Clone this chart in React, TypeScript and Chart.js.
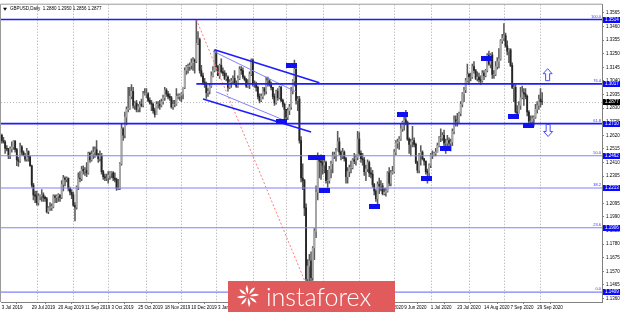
import React, { useEffect, useRef } from "react";
import { Chart, registerables } from "chart.js";

Chart.register(...registerables);

const symbolTitle = "GBPUSD,Daily";

// Daily quotes in pips (price x 10000), one row per month, 3 Jul 2019 .. 2 Oct 2020
const opens = [
  12620, 12580, 12568, 12520, 12515, 12460, 12515, 12530, 12575, 12510, 12430, 12420, 12530, 12490, 12465, 12435, 12495, 12455, 12385, 12235, 12160,
  12150, 12100, 12150, 12150, 12160, 12140, 12130, 12030, 12060, 12060, 12070, 12150, 12140, 12150, 12160, 12140, 12240, 12290, 12280, 12290, 12210, 12180,
  12160, 12080, 12065, 12220, 12290, 12285, 12355, 12345, 12350, 12330, 12480, 12430, 12475, 12490, 12510, 12470, 12440, 12460, 12340, 12300, 12290,
  12290, 12310, 12330, 12330, 12290, 12280, 12210, 12210, 12400, 12670, 12620, 12760, 12820, 12830, 12920, 12960, 12850, 12870, 12820, 12840, 12860, 12850, 12940,
  12940, 12940, 12890, 12870, 12860, 12810, 12780, 12860, 12860, 12850, 12880, 12910, 12970, 12940, 12920, 12910, 12840, 12860, 12860, 12920, 12920,
  12930, 12940, 12990, 13120, 13150, 13150, 13160, 13180, 13200, 13190, 13330, 13360, 13120, 13080, 13030, 13010, 12950, 12960, 13000, 13080, 13120,
  13260, 13150, 13080, 13160, 13110, 13100, 13060, 13070, 12990, 13030, 13040, 13060, 13020, 13000, 13060, 13130, 13120, 13070, 13050, 13000, 13010, 13090,
  13200, 13010, 13010, 12990, 12920, 12890, 12920, 12980, 12960, 13040, 13040, 13010, 12990, 12920, 12870, 12960, 12910, 12990, 12890, 12860,
  12820, 12760, 12810, 12840, 12960, 13040, 13130, 12890, 12900, 12580, 12290, 12270, 12060, 11510, 11610, 11650, 11520, 11750, 11880, 12180, 12450, 12420,
  12410, 12390, 12410, 12270, 12270, 12360, 12400, 12460, 12470, 12500, 12570, 12490, 12460, 12490, 12440, 12300, 12340, 12370, 12370, 12430, 12420, 12450,
  12590, 12480, 12440, 12430, 12340, 12360, 12410, 12330, 12320, 12240, 12190, 12130, 12240, 12230, 12230, 12170, 12180, 12190, 12330, 12250, 12330,
  12340, 12490, 12560, 12570, 12590, 12670, 12720, 12740, 12720, 12590, 12550, 12570, 12580, 12550, 12410, 12350, 12470, 12490, 12440, 12420, 12340, 12330,
  12390, 12470, 12470, 12480, 12490, 12540, 12600, 12600, 12620, 12560, 12560, 12580, 12560, 12570, 12650, 12740, 12730, 12730, 12790, 12860, 12940, 12970, 13040,
  13090, 13070, 13070, 13150, 13120, 13060, 13070, 13050, 13040, 13100, 13080, 13120, 13240, 13170, 13240, 13090, 13090, 13150, 13190, 13210, 13350,
  13370, 13390, 13310, 13270, 13280, 13160, 12990, 12990, 12800, 12790, 12850, 12910, 12950, 12940, 12920, 12800, 12730, 12730, 12750, 12760, 12820, 12850,
  12900, 12880,
];
const highs = [
  12630, 12605, 12580, 12540, 12520, 12530, 12570, 12580, 12580, 12520, 12450, 12560, 12540, 12500, 12480, 12520, 12500, 12460, 12390, 12250, 12190,
  12190, 12170, 12160, 12200, 12175, 12150, 12140, 12070, 12100, 12090, 12160, 12160, 12160, 12170, 12160, 12270, 12310, 12300, 12300, 12290, 12220, 12200,
  12180, 12100, 12230, 12330, 12340, 12380, 12385, 12370, 12410, 12490, 12490, 12500, 12530, 12530, 12580, 12480, 12500, 12480, 12350, 12320, 12320,
  12340, 12340, 12340, 12340, 12330, 12290, 12280, 12410, 12710, 12680, 12800, 12840, 12990, 12990, 13012, 12990, 12880, 12890, 12860, 12880, 12900, 12960, 12980,
  12980, 12950, 12910, 12890, 12870, 12830, 12880, 12880, 12890, 12900, 12930, 12990, 12980, 12960, 12940, 12920, 12890, 12890, 12980, 12940, 12940,
  12950, 12990, 13140, 13160, 13170, 13180, 13210, 13220, 13210, 13514, 13420, 13370, 13160, 13100, 13060, 13030, 12980, 13020, 13110, 13150, 13280,
  13270, 13160, 13170, 13210, 13140, 13120, 13100, 13080, 13050, 13060, 13080, 13120, 13040, 13080, 13150, 13150, 13140, 13080, 13060, 13050, 13110, 13210,
  13210, 13040, 13030, 13000, 12940, 12940, 12990, 12990, 13070, 13070, 13050, 13030, 12990, 12940, 12970, 12980, 13000, 13000, 12900, 12870,
  12820, 12830, 12860, 12990, 13050, 13200, 13140, 12920, 12920, 12610, 12400, 12280, 12090, 11660, 11700, 11720, 11760, 11900, 12230, 12485, 12460, 12470,
  12460, 12460, 12420, 12350, 12380, 12420, 12490, 12490, 12520, 12650, 12600, 12500, 12520, 12500, 12450, 12370, 12390, 12420, 12440, 12480, 12470, 12650,
  12640, 12500, 12480, 12450, 12390, 12430, 12420, 12370, 12350, 12250, 12200, 12260, 12290, 12270, 12250, 12210, 12210, 12340, 12370, 12350, 12380,
  12510, 12580, 12590, 12610, 12710, 12730, 12770, 12813, 12730, 12600, 12590, 12690, 12600, 12560, 12420, 12480, 12540, 12500, 12440, 12420, 12360, 12400,
  12480, 12500, 12490, 12520, 12560, 12610, 12670, 12640, 12660, 12590, 12620, 12600, 12590, 12670, 12770, 12770, 12790, 12800, 12880, 12950, 12990, 13060, 13170,
  13100, 13100, 13170, 13190, 13130, 13110, 13100, 13080, 13120, 13120, 13130, 13250, 13270, 13250, 13260, 13120, 13190, 13220, 13290, 13360, 13400,
  13482, 13410, 13350, 13290, 13290, 13180, 13020, 13010, 12850, 12880, 12990, 13000, 12980, 12980, 12930, 12810, 12770, 12770, 12770, 12860, 12880, 12930,
  12980, 12950,
];
const lows = [
  12560, 12560, 12480, 12500, 12440, 12440, 12490, 12510, 12490, 12385, 12380, 12410, 12470, 12460, 12420, 12420, 12420, 12380, 12220, 12120, 12100,
  12080, 12080, 12120, 12110, 12110, 12110, 12020, 12015, 12040, 12040, 12060, 12100, 12100, 12110, 12110, 12130, 12190, 12230, 12260, 12190, 12160, 12130,
  12070, 11958, 12050, 12200, 12260, 12270, 12320, 12310, 12300, 12320, 12410, 12420, 12440, 12450, 12460, 12410, 12420, 12320, 12280, 12270, 12270,
  12250, 12280, 12290, 12270, 12260, 12195, 12200, 12200, 12390, 12580, 12600, 12700, 12800, 12820, 12900, 12830, 12820, 12800, 12800, 12800, 12840, 12840, 12930,
  12910, 12880, 12860, 12810, 12790, 12760, 12780, 12830, 12820, 12840, 12860, 12890, 12920, 12900, 12890, 12830, 12820, 12840, 12850, 12900, 12890,
  12880, 12900, 12980, 13090, 13100, 13120, 13130, 13120, 13100, 13180, 13320, 13100, 13070, 13010, 12990, 12905, 12920, 12940, 12990, 13070, 13110,
  13120, 13080, 13060, 13100, 13080, 13050, 13040, 12960, 12980, 12990, 13020, 13010, 12990, 12990, 13050, 13090, 13060, 13040, 12990, 12990, 12980, 13080,
  13000, 12990, 12960, 12900, 12870, 12880, 12900, 12930, 12940, 13000, 13000, 12970, 12900, 12850, 12860, 12890, 12900, 12880, 12840, 12725,
  12720, 12740, 12780, 12820, 12940, 13000, 12860, 12810, 12560, 12260, 12200, 12000, 11480, 11440, 11409, 11450, 11500, 11660, 11830, 12120, 12290, 12280,
  12320, 12330, 12250, 12200, 12250, 12290, 12330, 12440, 12420, 12500, 12470, 12430, 12440, 12420, 12250, 12250, 12300, 12330, 12360, 12400, 12390, 12430,
  12460, 12410, 12390, 12310, 12270, 12340, 12300, 12290, 12220, 12160, 12110, 12075, 12170, 12190, 12160, 12160, 12150, 12180, 12230, 12230, 12320,
  12330, 12470, 12520, 12510, 12580, 12650, 12660, 12700, 12580, 12480, 12460, 12530, 12530, 12400, 12330, 12330, 12390, 12430, 12390, 12320, 12250, 12280,
  12370, 12440, 12460, 12460, 12490, 12530, 12570, 12580, 12530, 12480, 12540, 12530, 12500, 12540, 12630, 12690, 12690, 12720, 12770, 12840, 12880, 12950, 13030,
  13010, 13040, 13060, 13100, 13050, 13040, 13030, 13010, 13030, 13050, 13070, 13110, 13160, 13140, 13060, 13060, 13080, 13130, 13140, 13200, 13330,
  13350, 13300, 13240, 13180, 13150, 12980, 12880, 12790, 12760, 12790, 12820, 12900, 12850, 12900, 12770, 12710, 12680, 12690, 12690, 12750, 12790, 12820,
  12840, 12856,
];
const closes = [
  12580, 12568, 12520, 12515, 12460, 12515, 12530, 12575, 12510, 12430, 12420, 12530, 12490, 12465, 12435, 12495, 12455, 12385, 12235, 12160, 12150,
  12100, 12150, 12150, 12160, 12140, 12130, 12030, 12060, 12060, 12070, 12150, 12140, 12150, 12160, 12140, 12240, 12290, 12280, 12290, 12210, 12180, 12160,
  12080, 12065, 12220, 12290, 12285, 12355, 12345, 12350, 12330, 12480, 12430, 12475, 12490, 12510, 12470, 12440, 12460, 12340, 12300, 12290, 12290,
  12310, 12330, 12330, 12290, 12280, 12210, 12210, 12400, 12670, 12620, 12760, 12820, 12830, 12920, 12960, 12850, 12870, 12820, 12840, 12860, 12850, 12940, 12940,
  12940, 12890, 12870, 12860, 12810, 12780, 12860, 12860, 12850, 12880, 12910, 12970, 12940, 12920, 12910, 12840, 12860, 12860, 12920, 12920, 12930,
  12940, 12990, 13120, 13150, 13150, 13160, 13180, 13200, 13190, 13330, 13360, 13120, 13080, 13030, 13010, 12950, 12960, 13000, 13080, 13120, 13260,
  13150, 13080, 13160, 13110, 13100, 13060, 13070, 12990, 13030, 13040, 13060, 13020, 13000, 13060, 13130, 13120, 13070, 13050, 13000, 13010, 13090, 13200,
  13010, 13010, 12990, 12920, 12890, 12920, 12980, 12960, 13040, 13040, 13010, 12990, 12920, 12870, 12960, 12910, 12990, 12890, 12860, 12820,
  12760, 12810, 12840, 12960, 13040, 13130, 12890, 12900, 12580, 12290, 12270, 12060, 11510, 11610, 11650, 11520, 11750, 11880, 12180, 12450, 12420, 12410,
  12390, 12410, 12270, 12270, 12360, 12400, 12460, 12470, 12500, 12570, 12490, 12460, 12490, 12440, 12300, 12340, 12370, 12370, 12430, 12420, 12450, 12590,
  12480, 12440, 12430, 12340, 12360, 12410, 12330, 12320, 12240, 12190, 12130, 12240, 12230, 12230, 12170, 12180, 12190, 12330, 12250, 12330, 12340,
  12490, 12560, 12570, 12590, 12670, 12720, 12740, 12720, 12590, 12550, 12570, 12580, 12550, 12410, 12350, 12470, 12490, 12440, 12420, 12340, 12330, 12390,
  12470, 12470, 12480, 12490, 12540, 12600, 12600, 12620, 12560, 12560, 12580, 12560, 12570, 12650, 12740, 12730, 12730, 12790, 12860, 12940, 12970, 13040, 13090,
  13070, 13070, 13150, 13120, 13060, 13070, 13050, 13040, 13100, 13080, 13120, 13240, 13170, 13240, 13090, 13090, 13150, 13190, 13210, 13350, 13370,
  13390, 13310, 13270, 13280, 13160, 12990, 12990, 12800, 12790, 12850, 12910, 12950, 12940, 12920, 12800, 12730, 12730, 12750, 12760, 12820, 12850, 12900,
  12880, 12877,
];

// Time axis: bar index of each date label
const xTickIndex = [0, 18, 34, 50, 66, 82, 98, 114, 130, 146, 162, 178, 194, 210, 226, 242, 258, 274, 290, 306, 322];
const xTickLabels = [
  "3 Jul 2019", "29 Jul 2019", "20 Aug 2019", "11 Sep 2019", "3 Oct 2019", "25 Oct 2019", "18 Nov 2019",
  "10 Dec 2019", "3 Jan 2020", "27 Jan 2020", "18 Feb 2020", "11 Mar 2020", "2 Apr 2020", "24 Apr 2020",
  "18 May 2020", "9 Jun 2020", "1 Jul 2020", "23 Jul 2020", "14 Aug 2020", "7 Sep 2020", "29 Sep 2020",
];
// First bar of each month (period separators)
const monthStartIndex = [21, 43, 64, 87, 108, 129, 151, 171, 193, 215, 236, 258, 281, 302, 324];

// Price axis labels
const yTickValues = [
  1.1360, 1.1465, 1.1570, 1.1675, 1.1780, 1.1885, 1.1990, 1.2095, 1.2200, 1.2305, 1.2410,
  1.2515, 1.2620, 1.2725, 1.2830, 1.2935, 1.3040, 1.3145, 1.3250, 1.3355, 1.3460, 1.3565,
];

// Fibonacci retracement from the December high to the March low
const fibLevels = ["100.0", "76.4", "61.8", "50.0", "38.2", "23.6", "0.0"];
const fibPrices = [1.3514, 1.3017, 1.2710, 1.2462, 1.2213, 1.1906, 1.1409];
const fibFromIndex = [-0.5, 117, -0.5, -0.5, -0.5, -0.5, -0.5];
const fibStrong = [true, true, true, false, false, false, false];

// Falling channel (bar index, price)
const channelUpper = [[128, 1.328], [191, 1.3025]];
const channelLower = [[121, 1.29], [186, 1.2645]];
const channelInnerA = [[127, 1.327], [177, 1.2955]];
const channelInnerB = [[129, 1.2955], [170, 1.2735]];
// Guide from the December high to the March low
const fibDiagonal = [[117, 1.3514], [185, 1.1409]];

// Marked price points
const markerIndex = [174.5, 168, 187.5, 191, 194, 224, 240.8, 255.2, 266.6, 291.3, 307.6, 316.6];
const markerPrice = [1.3156, 1.2729, 1.2447, 1.2447, 1.2195, 1.2073, 1.2782, 1.2286, 1.2515, 1.321, 1.2767, 1.2698];

// Direction arrows to the right of the last bar
const arrowIndex = [328.3, 328.6];
const arrowPrice = [1.3088, 1.2657];
const arrowUp = [true, false];

const FONT = "'Liberation Sans', 'DejaVu Sans', sans-serif";
const BLUE = "#1c1cff";
const LIGHT_BLUE = "#8080ff";

const pip = (v: number) => v / 10000;

function segment(points: number[][], color: string, width: number, dash: number[] = []) {
  return {
    type: "line" as const,
    data: points.map(([x, y]) => ({ x, y })),
    borderColor: color,
    borderWidth: width,
    borderDash: dash,
    pointRadius: 0,
    fill: false,
    order: -1,
  };
}

const overlay = {
  id: "overlay",
  beforeDatasetsDraw(chart: any) {
    const { ctx, chartArea: a, scales } = chart;
    const xs = scales.x;
    const ys = scales.y;
    ctx.save();
    ctx.strokeStyle = "#a6a6a6";
    ctx.lineWidth = 1;
    ctx.setLineDash([1, 2]);
    for (const i of monthStartIndex) {
      const px = Math.round(xs.getPixelForValue(i)) + 0.5;
      ctx.beginPath();
      ctx.moveTo(px, a.top);
      ctx.lineTo(px, a.bottom);
      ctx.stroke();
    }
    // bid line
    const last = closes.length - 1;
    const py = Math.round(ys.getPixelForValue(pip(closes[last]))) + 0.5;
    ctx.strokeStyle = "#b8b8b8";
    ctx.beginPath();
    ctx.moveTo(a.left, py);
    ctx.lineTo(a.right, py);
    ctx.stroke();
    ctx.restore();
  },
  afterDatasetsDraw(chart: any) {
    const { ctx, scales } = chart;
    const xs = scales.x;
    const ys = scales.y;
    ctx.save();
    // price markers
    ctx.fillStyle = "#1010f0";
    markerIndex.forEach((i, k) => {
      const cx = xs.getPixelForValue(i);
      const cy = ys.getPixelForValue(markerPrice[k]);
      ctx.fillRect(Math.round(cx - 5.5), Math.round(cy - 2.5), 11, 5);
    });
    // arrows
    arrowIndex.forEach((i, k) => {
      const cx = xs.getPixelForValue(i);
      const cy = ys.getPixelForValue(arrowPrice[k]);
      const s = arrowUp[k] ? 1 : -1;
      ctx.beginPath();
      ctx.moveTo(cx, cy - 6 * s);
      ctx.lineTo(cx + 4.5, cy - 1 * s);
      ctx.lineTo(cx + 2, cy - 1 * s);
      ctx.lineTo(cx + 2, cy + 6 * s);
      ctx.lineTo(cx - 2, cy + 6 * s);
      ctx.lineTo(cx - 2, cy - 1 * s);
      ctx.lineTo(cx - 4.5, cy - 1 * s);
      ctx.closePath();
      ctx.fillStyle = "#ffffff";
      ctx.fill();
      ctx.strokeStyle = "#4a4aff";
      ctx.lineWidth = 1;
      ctx.stroke();
    });
    ctx.restore();
  },
  afterDraw(chart: any) {
    const { ctx, chartArea: a, scales, width } = chart;
    const ys = scales.y;
    ctx.save();
    // frame
    ctx.strokeStyle = "#9a9a9a";
    ctx.lineWidth = 1;
    ctx.beginPath();
    ctx.moveTo(a.left - 0.5, a.bottom);
    ctx.lineTo(a.left - 0.5, a.top - 0.5);
    ctx.lineTo(a.right, a.top - 0.5);
    ctx.stroke();

    // Fibonacci level captions and price tags
    ctx.textBaseline = "middle";
    fibPrices.forEach((p, k) => {
      const y = ys.getPixelForValue(p);
      ctx.fillStyle = "#3535ff";
      ctx.font = `4px ${FONT}`;
      ctx.textAlign = "right";
      ctx.fillText(fibLevels[k], a.right - 1, y - 3);
      ctx.fillStyle = "#0a0aff";
      ctx.fillRect(a.right + 1, Math.round(y - 3), width - a.right - 1, 6);
      ctx.fillStyle = "#ffffff";
      ctx.font = `4.5px ${FONT}`;
      ctx.textAlign = "left";
      ctx.fillText(p.toFixed(4), a.right + 3, y);
    });
    // current price tag
    const last = closes.length - 1;
    const cy = ys.getPixelForValue(pip(closes[last]));
    ctx.fillStyle = "#000000";
    ctx.fillRect(a.right + 1, Math.round(cy - 3), width - a.right - 1, 6);
    ctx.fillStyle = "#ffffff";
    ctx.font = `4.5px ${FONT}`;
    ctx.fillText(pip(closes[last]).toFixed(4), a.right + 3, cy);

    // header line
    ctx.fillStyle = "#000000";
    ctx.beginPath();
    ctx.moveTo(a.left + 2, a.top + 3);
    ctx.lineTo(a.left + 6, a.top + 3);
    ctx.lineTo(a.left + 4, a.top + 6);
    ctx.closePath();
    ctx.fill();
    ctx.font = `4.5px ${FONT}`;
    ctx.textAlign = "left";
    const head = [opens[last], highs[last], lows[last], closes[last]].map((v) => pip(v).toFixed(4)).join(" ");
    ctx.fillText(`${symbolTitle}  ${head}`, a.left + 9, a.top + 4.5);

    // brand plate
    const bx = 228, by = 281, bw = 167, bh = 31;
    ctx.fillStyle = "#e15b5d";
    ctx.fillRect(bx, by, bw, bh);
    ctx.fillStyle = "#ffffff";
    const lx = bx + 20, ly = by + 15;
    for (let r = 0; r < 8; r++) {
      const ang = (r * Math.PI) / 4;
      ctx.save();
      ctx.translate(lx, ly);
      ctx.rotate(ang);
      ctx.beginPath();
      ctx.moveTo(2, 0);
      ctx.quadraticCurveTo(7, -4, 11, -1);
      ctx.quadraticCurveTo(7, 1, 2, 0);
      ctx.fill();
      ctx.restore();
    }
    ctx.font = `300 25px Lato, 'Open Sans', sans-serif`;
    ctx.textBaseline = "alphabetic";
    ctx.textAlign = "left";
    ctx.fillText("instaforex", bx + 38, by + 25);
    ctx.restore();
  },
};

export default function App() {
  const ref = useRef<HTMLCanvasElement | null>(null);

  useEffect(() => {
    document.body.style.margin = "0";
    const canvas = ref.current;
    if (!canvas) return;

    const bars = opens.map((_, i) => i);
    const wickData = bars.map((i) => ({ x: i, y: [pip(lows[i]), pip(highs[i])] }));
    const bodyData = bars.map((i) => ({ x: i, y: [pip(opens[i]), pip(closes[i])] }));
    const bodyColors = bars.map((i) => (closes[i] >= opens[i] ? "#a8a8a8" : "#262626"));

    const fibSets = fibPrices.map((p, k) =>
      segment(
        [[fibFromIndex[k], p], [361, p]],
        fibStrong[k] ? BLUE : LIGHT_BLUE,
        fibStrong[k] ? 1.6 : 1.2
      )
    );

    const chart = new Chart(canvas, {
      type: "bar",
      data: {
        datasets: [
          ...fibSets,
          segment(channelUpper, BLUE, 1.6),
          segment(channelLower, BLUE, 1.6),
          segment(channelInnerA, LIGHT_BLUE, 1),
          segment(channelInnerB, LIGHT_BLUE, 1),
          segment(fibDiagonal, "#ff7a7a", 1, [2, 2]),
          {
            type: "bar",
            data: bodyData as any,
            backgroundColor: bodyColors,
            barThickness: 1.2,
            grouped: false,
            order: 0,
          },
          {
            type: "bar",
            data: wickData as any,
            backgroundColor: "#5a5a5a",
            barThickness: 0.9,
            grouped: false,
            order: 1,
          },
        ] as any,
      },
      options: {
        responsive: false,
        animation: false,
        events: [],
        layout: { padding: { left: 1, top: 1, right: 0, bottom: 0 } },
        plugins: { legend: { display: false }, tooltip: { enabled: false } },
        scales: {
          x: {
            type: "linear",
            min: -0.5,
            max: 361,
            offset: false,
            position: "bottom",
            afterBuildTicks: (s: any) => {
              s.ticks = xTickIndex.map((v) => ({ value: v }));
            },
            afterFit: (s: any) => {
              s.height = 10;
            },
            ticks: {
              autoSkip: false,
              maxRotation: 0,
              minRotation: 0,
              align: "start",
              padding: 1,
              color: "#000000",
              font: { size: 4.5, family: FONT },
              callback: (_v: any, i: number) => xTickLabels[i],
            },
            grid: { drawOnChartArea: false, tickLength: 2, color: "#808080" },
            border: { color: "#808080" },
          },
          y: {
            type: "linear",
            position: "right",
            min: 1.13327,
            max: 1.36284,
            afterBuildTicks: (s: any) => {
              s.ticks = yTickValues.map((v) => ({ value: v }));
            },
            afterFit: (s: any) => {
              s.width = 18;
            },
            ticks: {
              padding: 2,
              color: "#000000",
              font: { size: 4.5, family: FONT },
              callback: (v: any) => Number(v).toFixed(4),
            },
            grid: { drawOnChartArea: false, tickLength: 2, color: "#808080" },
            border: { color: "#808080" },
          },
        },
      } as any,
      plugins: [overlay],
    });

    return () => chart.destroy();
  }, []);

  return <canvas ref={ref} width={620} height={312} style={{ display: "block" }} />;
}
